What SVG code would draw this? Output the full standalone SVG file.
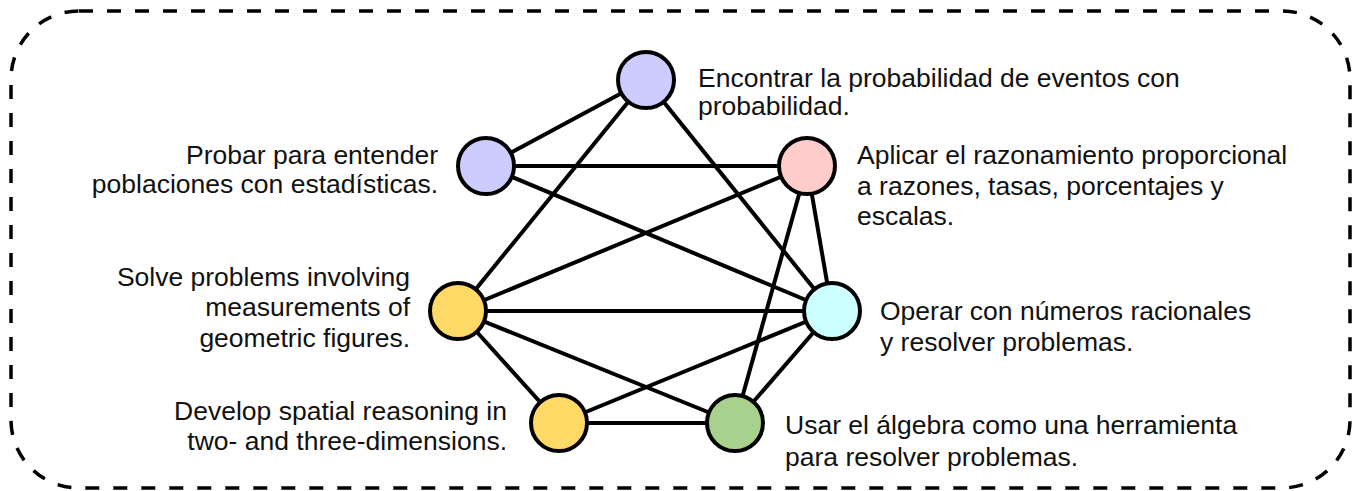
<svg xmlns="http://www.w3.org/2000/svg" width="1359" height="491" viewBox="0 0 1359 491">
<style>
.n{stroke:#000;stroke-width:4}
.e line{stroke:#000;stroke-width:4}
text{font-family:"Liberation Sans",Arial,sans-serif;font-size:26.5px;fill:#111}
.r{text-anchor:end}
</style>
<rect x="11" y="11" width="1339" height="477" rx="68" ry="68" fill="none" stroke="#000" stroke-width="3.5" stroke-dasharray="14 14"/>
<g id="connectors" class="e">
<line x1="646" y1="80" x2="486" y2="166"/>
<line x1="646" y1="80" x2="458" y2="311"/>
<line x1="646" y1="80" x2="832" y2="311"/>
<line x1="486" y1="166" x2="807" y2="166"/>
<line x1="486" y1="166" x2="832" y2="311"/>
<line x1="807" y1="166" x2="458" y2="311"/>
<line x1="807" y1="166" x2="832" y2="311"/>
<line x1="807" y1="166" x2="735" y2="423"/>
<line x1="458" y1="311" x2="832" y2="311"/>
<line x1="458" y1="311" x2="735" y2="423"/>
<line x1="458" y1="311" x2="559" y2="423"/>
<line x1="559" y1="423" x2="832" y2="311"/>
<line x1="559" y1="423" x2="735" y2="423"/>
<line x1="832" y1="311" x2="735" y2="423"/>
</g>
<g id="n-probabilidad"><circle class="n" cx="646" cy="80" r="28" fill="#ccccff"/><text x="698" y="87">Encontrar la probabilidad de eventos con</text><text x="698" y="115">probabilidad.</text></g>
<g id="n-estadisticas"><circle class="n" cx="486" cy="166" r="28" fill="#ccccff"/><text class="r" x="438" y="164">Probar para entender</text><text class="r" x="438" y="193">poblaciones con estadísticas.</text></g>
<g id="n-proporcional"><circle class="n" cx="807" cy="166" r="28" fill="#ffcccc"/><text x="857" y="164">Aplicar el razonamiento proporcional</text><text x="857" y="195">a razones, tasas, porcentajes y</text><text x="857" y="225">escalas.</text></g>
<g id="n-geometric"><circle class="n" cx="458" cy="311" r="28" fill="#ffd966"/><text class="r" x="410" y="286">Solve problems involving</text><text class="r" x="410" y="316">measurements of</text><text class="r" x="410" y="347">geometric figures.</text></g>
<g id="n-racionales"><circle class="n" cx="832" cy="311" r="28" fill="#ccffff"/><text x="880" y="320">Operar con números racionales</text><text x="880" y="351">y resolver problemas.</text></g>
<g id="n-spatial"><circle class="n" cx="559" cy="423" r="28" fill="#ffd966"/><text class="r" x="507" y="420">Develop spatial reasoning in</text><text class="r" x="507" y="450">two- and three-dimensions.</text></g>
<g id="n-algebra"><circle class="n" cx="735" cy="423" r="28" fill="#a9d18e"/><text x="785" y="434">Usar el álgebra como una herramienta</text><text x="785" y="466">para resolver problemas.</text></g>
</svg>
